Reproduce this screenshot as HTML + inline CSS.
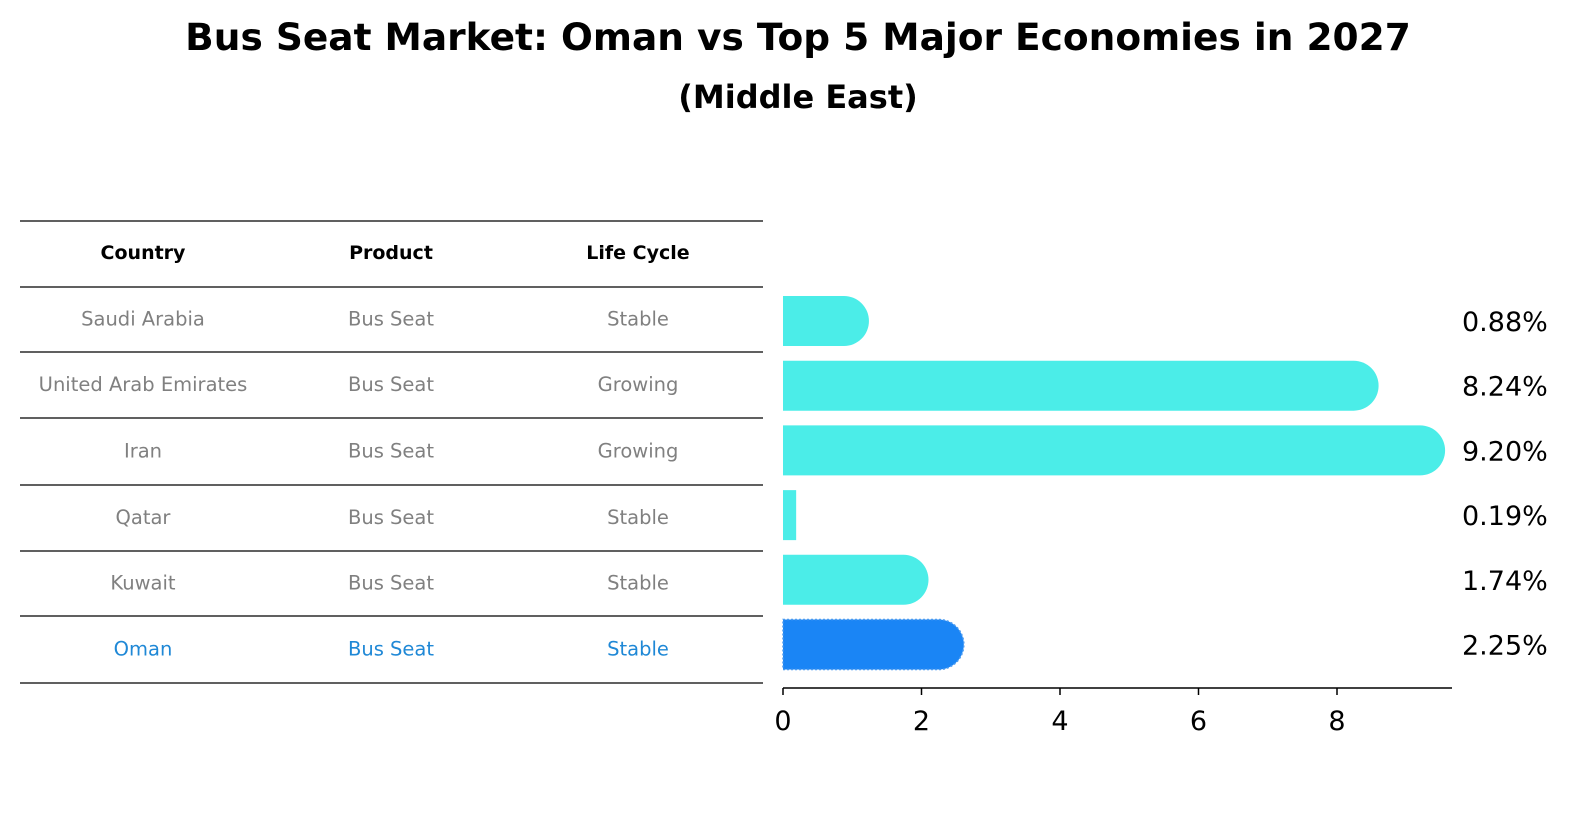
<!DOCTYPE html>
<html><head><meta charset="utf-8"><style>
body{margin:0;background:#fff;font-family:"Liberation Sans","DejaVu Sans",sans-serif;}
</style></head><body>
<svg width="1586" height="823" xmlns="http://www.w3.org/2000/svg" style="font-family:'DejaVu Sans','Liberation Sans',sans-serif">
<text x="798" y="50" text-anchor="middle" font-size="37.5" font-weight="bold">Bus Seat Market: Oman vs Top 5 Major Economies in 2027</text>
<text x="798" y="108" text-anchor="middle" font-size="32" font-weight="bold">(Middle East)</text>
<g id="table"></g>
<g id="bars"></g>
</svg>
<script>
const countries=["Saudi Arabia","United Arab Emirates","Iran","Qatar","Kuwait","Oman"];
const products=["Bus Seat","Bus Seat","Bus Seat","Bus Seat","Bus Seat","Bus Seat"];
const lifeCycles=["Stable","Growing","Growing","Stable","Stable","Stable"];
const values=[0.88,8.24,9.20,0.19,1.74,2.25];
const xTicks=[0,2,4,6,8];
const NS="http://www.w3.org/2000/svg";
function mk(t,a,p,txt){const e=document.createElementNS(NS,t);for(const k in a)e.setAttribute(k,a[k]);if(txt!==undefined)e.textContent=txt;p.appendChild(e);return e;}
const x0=783,pxPer=69.25;
const xs=v=>x0+v*pxPer;
const rowY=i=>321+i*64.7;
const tbl=document.getElementById('table');
const lineYs=[221,287,352,418,485,551,616,683];
lineYs.forEach(y=>{const l=mk('line',{x1:20,x2:763,y1:y,y2:y,stroke:'#000','stroke-width':1.2},tbl);

});
const colX=[143,391,638];
["Country","Product","Life Cycle"].forEach((h,j)=>{const t=mk('text',{x:colX[j],y:259,'text-anchor':'middle','font-size':19,'font-weight':'bold'},tbl,h);

});
countries.forEach((c,i)=>{const y=(lineYs[i+1]+lineYs[i+2])/2+6;const col=c==="Oman"?'#1f88d6':'#808080';
[c,products[i],lifeCycles[i]].forEach((v,j)=>{const t=mk('text',{x:colX[j],y:y,'text-anchor':'middle','font-size':19.5,fill:col},tbl,v);

});});
const bg=document.getElementById('bars');
values.forEach((v,i)=>{const cy=rowY(i),h=50,r=25;const oman=countries[i]==="Oman";const fill=oman?'#1a85f5':'#4bede8';
const w=xs(v)-x0;let d;
if(v>=0.5){d=`M${x0},${cy-h/2} H${x0+w} A${r},${r} 0 0 1 ${x0+w},${cy+h/2} H${x0} Z`;}
else{d=`M${x0},${cy-h/2} H${x0+w} V${cy+h/2} H${x0} Z`;}
const p=mk('path',{d:d,fill:fill},bg);
if(oman){p.setAttribute('stroke','#4a9af0');p.setAttribute('stroke-dasharray','2,2');p.setAttribute('stroke-width','1.5');}


const t=mk('text',{x:1462,y:cy+10,'font-size':27},bg,v.toFixed(2)+'%');

});
const ax=mk('line',{x1:x0,x2:1452,y1:688,y2:688,stroke:'#000','stroke-width':1.5},bg);


xTicks.forEach(v=>{const tl=mk('line',{x1:xs(v),x2:xs(v),y1:688,y2:695,stroke:'#000','stroke-width':1.5},bg);


const t=mk('text',{x:xs(v),y:730,'text-anchor':'middle','font-size':27},bg,String(v));

});
</script>
</body></html>
